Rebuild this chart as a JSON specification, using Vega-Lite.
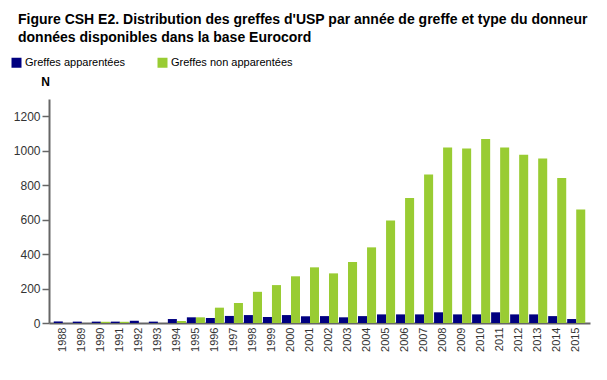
{
  "$schema": "https://vega.github.io/schema/vega-lite/v6.json",
  "width": 541,
  "height": 224,
  "autosize": {"type": "none"},
  "padding": {"left": 49, "top": 99, "right": 17, "bottom": 57},
  "background": "white",
  "title": {
    "text": ["Figure CSH E2. Distribution des greffes d'USP par année de greffe et type du donneur", "données disponibles dans la base Eurocord"],
    "anchor": "start",
    "frame": "group",
    "dx": -31,
    "offset": 12,
    "font": "Liberation Sans",
    "fontSize": 14,
    "fontWeight": "bold",
    "color": "#000000",
    "lineHeight": 18
  },
  "data": {
    "values": [
      {"annee": "1988", "type": "Greffes apparentées", "n": 9},
      {"annee": "1989", "type": "Greffes apparentées", "n": 8},
      {"annee": "1990", "type": "Greffes apparentées", "n": 8},
      {"annee": "1991", "type": "Greffes apparentées", "n": 8},
      {"annee": "1992", "type": "Greffes apparentées", "n": 13},
      {"annee": "1993", "type": "Greffes apparentées", "n": 8},
      {"annee": "1994", "type": "Greffes apparentées", "n": 23},
      {"annee": "1995", "type": "Greffes apparentées", "n": 33},
      {"annee": "1996", "type": "Greffes apparentées", "n": 29},
      {"annee": "1997", "type": "Greffes apparentées", "n": 41},
      {"annee": "1998", "type": "Greffes apparentées", "n": 46},
      {"annee": "1999", "type": "Greffes apparentées", "n": 35},
      {"annee": "2000", "type": "Greffes apparentées", "n": 46},
      {"annee": "2001", "type": "Greffes apparentées", "n": 39},
      {"annee": "2002", "type": "Greffes apparentées", "n": 40},
      {"annee": "2003", "type": "Greffes apparentées", "n": 33},
      {"annee": "2004", "type": "Greffes apparentées", "n": 40},
      {"annee": "2005", "type": "Greffes apparentées", "n": 50},
      {"annee": "2006", "type": "Greffes apparentées", "n": 50},
      {"annee": "2007", "type": "Greffes apparentées", "n": 50},
      {"annee": "2008", "type": "Greffes apparentées", "n": 62},
      {"annee": "2009", "type": "Greffes apparentées", "n": 50},
      {"annee": "2010", "type": "Greffes apparentées", "n": 50},
      {"annee": "2011", "type": "Greffes apparentées", "n": 62},
      {"annee": "2012", "type": "Greffes apparentées", "n": 50},
      {"annee": "2013", "type": "Greffes apparentées", "n": 50},
      {"annee": "2014", "type": "Greffes apparentées", "n": 40},
      {"annee": "2015", "type": "Greffes apparentées", "n": 23},
      {"annee": "1988", "type": "Greffes non apparentées", "n": 0},
      {"annee": "1989", "type": "Greffes non apparentées", "n": 0},
      {"annee": "1990", "type": "Greffes non apparentées", "n": 7},
      {"annee": "1991", "type": "Greffes non apparentées", "n": 7},
      {"annee": "1992", "type": "Greffes non apparentées", "n": 0},
      {"annee": "1993", "type": "Greffes non apparentées", "n": 0},
      {"annee": "1994", "type": "Greffes non apparentées", "n": 12},
      {"annee": "1995", "type": "Greffes non apparentées", "n": 33},
      {"annee": "1996", "type": "Greffes non apparentées", "n": 89},
      {"annee": "1997", "type": "Greffes non apparentées", "n": 116},
      {"annee": "1998", "type": "Greffes non apparentées", "n": 181},
      {"annee": "1999", "type": "Greffes non apparentées", "n": 220},
      {"annee": "2000", "type": "Greffes non apparentées", "n": 271},
      {"annee": "2001", "type": "Greffes non apparentées", "n": 323},
      {"annee": "2002", "type": "Greffes non apparentées", "n": 288},
      {"annee": "2003", "type": "Greffes non apparentées", "n": 354},
      {"annee": "2004", "type": "Greffes non apparentées", "n": 439},
      {"annee": "2005", "type": "Greffes non apparentées", "n": 595},
      {"annee": "2006", "type": "Greffes non apparentées", "n": 726},
      {"annee": "2007", "type": "Greffes non apparentées", "n": 862},
      {"annee": "2008", "type": "Greffes non apparentées", "n": 1018},
      {"annee": "2009", "type": "Greffes non apparentées", "n": 1013},
      {"annee": "2010", "type": "Greffes non apparentées", "n": 1068},
      {"annee": "2011", "type": "Greffes non apparentées", "n": 1018},
      {"annee": "2012", "type": "Greffes non apparentées", "n": 976},
      {"annee": "2013", "type": "Greffes non apparentées", "n": 955},
      {"annee": "2014", "type": "Greffes non apparentées", "n": 841},
      {"annee": "2015", "type": "Greffes non apparentées", "n": 659}
    ]
  },
  "mark": {"type": "bar"},
  "encoding": {
    "x": {
      "field": "annee",
      "type": "ordinal",
      "scale": {"paddingInner": 0.05, "paddingOuter": 0.25},
      "axis": {
        "title": null,
        "labelAngle": -90,
        "labelAlign": "right",
        "labelBaseline": "middle",
        "labelFont": "Liberation Sans",
        "labelFontSize": 11,
        "labelColor": "#333333",
        "labelPadding": 4,
        "ticks": false,
        "domainColor": "#666666",
        "domainWidth": 2
      }
    },
    "xOffset": {
      "field": "type",
      "type": "nominal",
      "sort": ["Greffes apparentées", "Greffes non apparentées"]
    },
    "y": {
      "field": "n",
      "type": "quantitative",
      "scale": {"domain": [0, 1300], "nice": false},
      "axis": {
        "title": "N",
        "titleAngle": 0,
        "titleX": -4,
        "titleY": -11,
        "titleAlign": "center",
        "titleBaseline": "bottom",
        "titleFont": "Liberation Sans",
        "titleFontSize": 12,
        "titleFontWeight": "bold",
        "titleColor": "#000000",
        "values": [0, 200, 400, 600, 800, 1000, 1200],
        "format": "d",
        "grid": false,
        "labelFont": "Liberation Sans",
        "labelFontSize": 12,
        "labelColor": "#333333",
        "labelPadding": 2,
        "tickSize": 7,
        "tickColor": "#666666",
        "tickWidth": 1.5,
        "domainColor": "#666666",
        "domainWidth": 2
      }
    },
    "color": {
      "field": "type",
      "type": "nominal",
      "scale": {
        "domain": ["Greffes apparentées", "Greffes non apparentées"],
        "range": ["#000080", "#99cc33"]
      },
      "legend": {
        "title": null,
        "orient": "none",
        "legendX": -38,
        "legendY": -42,
        "direction": "horizontal",
        "symbolType": "square",
        "symbolSize": 100,
        "symbolStrokeWidth": 0,
        "labelFont": "Liberation Sans",
        "labelFontSize": 11,
        "labelColor": "#000000",
        "labelOffset": 3,
        "columnPadding": 31
      }
    }
  },
  "config": {"view": {"stroke": null}}
}
